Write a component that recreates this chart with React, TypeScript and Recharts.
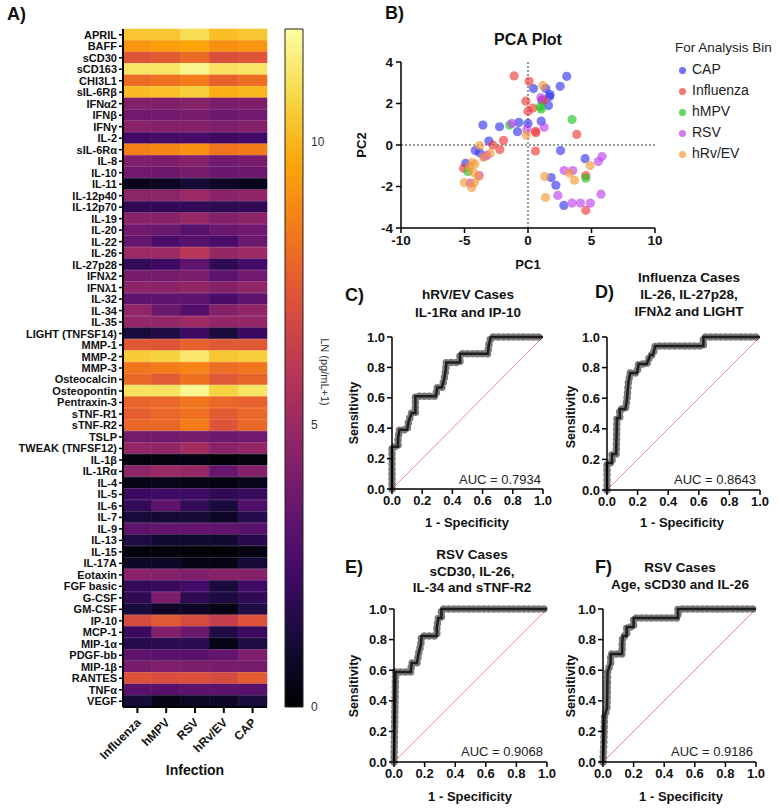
import React from "react";
import {
  Bar,
  BarChart,
  Cell,
  Line,
  LineChart,
  ReferenceLine,
  Scatter,
  ScatterChart,
  XAxis,
  YAxis,
} from "recharts";

// ---- A) heatmap: LN(pg/mL+1) per analyte and infection ----
const INFECTIONS = ["Influenza", "hMPV", "RSV", "hRv/EV", "CAP"];

const MARKERS = [
  "APRIL", "BAFF", "sCD30", "sCD163", "CHI3L1", "sIL-6Rβ", "IFNα2", "IFNβ", "IFNγ", "IL-2",
  "sIL-6Rα", "IL-8", "IL-10", "IL-11", "IL-12p40", "IL-12p70", "IL-19", "IL-20", "IL-22", "IL-26",
  "IL-27p28", "IFNλ2", "IFNλ1", "IL-32", "IL-34", "IL-35", "LIGHT (TNFSF14)", "MMP-1", "MMP-2", "MMP-3",
  "Osteocalcin", "Osteopontin", "Pentraxin-3", "sTNF-R1", "sTNF-R2", "TSLP", "TWEAK (TNFSF12)", "IL-1β", "IL-1Rα", "IL-4",
  "IL-5", "IL-6", "IL-7", "IL-9", "IL-13", "IL-15", "IL-17A", "Eotaxin", "FGF basic", "G-CSF",
  "GM-CSF", "IP-10", "MCP-1", "MIP-1α", "PDGF-bb", "MIP-1β", "RANTES", "TNFα", "VEGF",
];

const INFLUENZA = [10.4, 9.2, 7.3, 11.2, 8.0, 10.1, 4.3, 3.8, 4.5, 2.4, 8.6, 4.2, 3.8, 0.5, 4.6, 1.9, 4.5, 3.8, 3.5, 5.0, 2.0, 4.0, 4.6, 3.3, 4.7, 4.8, 1.3, 7.4, 10.5, 8.3, 7.9, 11.1, 7.8, 7.6, 7.9, 3.9, 4.8, 0.2, 4.6, 0.4, 2.2, 2.0, 1.3, 3.2, 1.5, 0.2, 0.8, 4.5, 2.0, 1.9, 1.3, 6.9, 2.2, 1.6, 3.2, 4.0, 7.2, 3.1, 1.2];
const HMPV = [10.4, 9.4, 7.5, 11.2, 8.2, 10.2, 4.2, 3.8, 4.3, 2.5, 8.8, 4.1, 3.7, 0.7, 4.6, 2.0, 4.5, 3.6, 2.7, 5.0, 2.3, 3.9, 4.5, 3.3, 3.6, 4.8, 1.5, 7.3, 10.7, 8.5, 7.5, 11.1, 7.9, 7.9, 7.9, 3.8, 4.7, 0.2, 5.0, 0.5, 2.3, 3.2, 1.1, 3.4, 1.0, 0.2, 0.8, 4.4, 2.1, 4.1, 0.8, 7.4, 4.3, 1.8, 3.1, 4.2, 7.0, 3.0, 0.4];
const RSV = [11.0, 9.6, 8.0, 11.7, 8.5, 10.6, 4.4, 4.0, 4.4, 2.6, 9.1, 4.4, 4.0, 1.1, 5.0, 2.0, 4.9, 3.0, 3.0, 5.9, 3.3, 4.1, 4.8, 3.3, 2.9, 5.1, 2.3, 7.7, 11.3, 8.7, 8.2, 11.8, 8.3, 8.2, 8.5, 3.9, 5.3, 0.3, 4.9, 0.4, 2.3, 2.0, 1.2, 3.4, 1.0, 0.1, 0.4, 4.2, 2.5, 1.9, 0.8, 6.9, 3.6, 1.8, 3.1, 4.1, 7.1, 3.2, 0.7];
const HRV_EV = [10.2, 9.0, 7.1, 11.1, 7.7, 9.8, 4.1, 3.7, 4.2, 2.3, 8.3, 3.8, 3.6, 0.8, 4.5, 1.8, 4.3, 3.6, 2.6, 4.9, 1.9, 3.2, 4.4, 2.6, 4.4, 4.7, 1.3, 7.4, 10.4, 8.1, 7.4, 10.7, 7.9, 7.5, 7.3, 3.7, 4.5, 0.1, 3.5, 0.3, 1.9, 1.3, 0.8, 3.3, 1.0, 0.1, 0.4, 4.4, 1.3, 1.4, 0.4, 6.3, 1.5, 0.4, 3.4, 4.0, 6.9, 3.2, 0.8];
const CAP = [10.4, 9.2, 7.3, 11.2, 8.1, 10.0, 4.2, 3.8, 4.4, 2.4, 8.5, 4.0, 3.7, 0.5, 4.7, 1.9, 4.6, 3.8, 3.6, 5.1, 2.5, 3.8, 4.7, 3.2, 4.7, 4.8, 2.2, 7.4, 10.6, 8.3, 7.8, 11.2, 7.7, 7.9, 7.9, 3.8, 4.8, 0.2, 4.4, 0.5, 2.1, 2.8, 1.6, 3.1, 1.7, 0.3, 1.1, 4.4, 2.3, 1.9, 1.5, 7.2, 2.2, 1.4, 4.2, 3.9, 7.5, 3.0, 1.3];

const SCALE_MAX = 12;
const SCALE_TICKS = [0, 5, 10];

// ---- B) PCA scores ----
const CAP_PC1 = [3.05, 0.43, 1.4, 2.53, 1.74, 1.7, 1.61, 1.09, 1.04, -3.55, -2.24, -0.72, -0.83, 0, -3.08, -4.15, -3.81, -4.91, 2.56, 4.5, 1.82, 2.19, 2.82];
const CAP_PC2 = [3.31, 2.72, 2.72, 2.83, 2.43, 2.32, 1.9, 2.16, 1.15, 0.96, 0.88, 1.09, 0.64, 1.04, 0.19, -0.27, -0.37, -0.88, -0.27, -0.66, -1.57, -1.94, -2.91];
const FLU_PC1 = [-1.09, 0.09, -0.17, 0, 0.38, 1.22, 0.59, 0.62, 3.84, 0.59, -1.93, -2.77, -2.22, -5.07, 4.55, 4.55];
const FLU_PC2 = [3.33, 3.07, 2.11, 1.63, 1.78, 2.16, 0.66, 0.59, 0.51, -0.29, 0.22, 0, -0.22, -1.12, -1.47, -3.15];
const HMPV_PC1 = [0.96, 1.04, 3.47, -1.45, 4.55, -4.73];
const HMPV_PC2 = [1.84, 1.73, 1.23, 0.96, -1.6, -1.28];
const RSV_PC1 = [1.01, 1.27, -0.09, -1.27, -3.24, -3.45, -3.84, -4.55, 2.85, 3.53, 5.83, 5.54, 5.75, 2.35, 3.47, 4.13, 4.91];
const RSV_PC2 = [2.29, 0.85, 0.75, 1.04, -0.5, -0.56, -1.47, -1.84, -1.23, -1.23, -0.56, -0.8, -2.37, -2.43, -2.8, -2.8, -2.8];
const HRV_PC1 = [1.17, -0.14, -3.81, -2.98, -3.5, -4.42, -4.18, -4.6, -4.28, -3.89, -5.02, -4.21, -4.44, 1.32, 3.26, 3.66, 4.89, 1.38];
const HRV_PC2 = [2.86, 0.48, -0.03, -0.4, -0.59, -0.85, -0.91, -1.09, -1.33, -1.52, -1.81, -1.81, -2.05, -1.52, -1.36, -1.7, -0.99, -2.53];

const PCA_X_TICKS = [-10, -5, 0, 5, 10];
const PCA_Y_TICKS = [-4, -2, 0, 2, 4];

// ---- C–F) ROC curve vertices (1 - specificity, sensitivity) ----
const C_FPR = [0, 0, 0.04, 0.04, 0.05, 0.1, 0.11, 0.13, 0.155, 0.155, 0.29, 0.3, 0.33, 0.345, 0.355, 0.36, 0.45, 0.45, 0.635, 0.64, 0.655, 1];
const C_TPR = [0, 0.278, 0.278, 0.333, 0.389, 0.389, 0.444, 0.5, 0.5, 0.611, 0.611, 0.667, 0.667, 0.722, 0.778, 0.833, 0.833, 0.889, 0.889, 0.944, 1, 1];
const D_FPR = [0, 0, 0.033, 0.033, 0.06, 0.065, 0.083, 0.083, 0.12, 0.13, 0.14, 0.152, 0.196, 0.207, 0.26, 0.283, 0.3, 0.315, 0.63, 0.63, 1];
const D_TPR = [0, 0.176, 0.176, 0.235, 0.235, 0.471, 0.471, 0.529, 0.529, 0.588, 0.706, 0.765, 0.765, 0.824, 0.824, 0.882, 0.882, 0.941, 0.941, 1, 1];
const E_FPR = [0, 0.01, 0.11, 0.115, 0.15, 0.16, 0.175, 0.18, 0.28, 0.28, 0.29, 0.31, 0.31, 1];
const E_TPR = [0, 0.588, 0.588, 0.647, 0.647, 0.706, 0.765, 0.824, 0.824, 0.882, 0.941, 0.941, 1, 1];
const F_FPR = [0, 0.005, 0.01, 0.026, 0.03, 0.05, 0.05, 0.125, 0.125, 0.13, 0.155, 0.155, 0.2, 0.2, 0.49, 0.49, 1];
const F_TPR = [0, 0.118, 0.294, 0.353, 0.588, 0.647, 0.706, 0.706, 0.765, 0.824, 0.824, 0.882, 0.882, 0.941, 0.941, 1, 1];

const ROC_TICKS = [0, 0.2, 0.4, 0.6, 0.8, 1];

const FONT = "'Liberation Sans', Arial, sans-serif";
const INK = "#111";

// inferno colormap stops
const INFERNO = [
  [0, 0, 4], [22, 11, 57], [66, 10, 104], [106, 23, 110], [147, 38, 103], [188, 55, 84],
  [221, 81, 58], [243, 120, 25], [252, 165, 10], [246, 215, 70], [252, 255, 164],
];

function inferno(t: number): string {
  const c = Math.max(0, Math.min(1, t)) * 10;
  const i = Math.min(9, Math.floor(c));
  const f = c - i;
  const a = INFERNO[i];
  const b = INFERNO[i + 1];
  const mix = (k: number) => Math.round(a[k] + (b[k] - a[k]) * f);
  return `rgb(${mix(0)},${mix(1)},${mix(2)})`;
}

/** Absolutely placed text, centred on (x, y) unless anchored otherwise. */
function Txt({
  x, y, size = 13, bold = true, anchor = "middle", rotate = 0, color = INK, children,
}: {
  x: number; y: number; size?: number; bold?: boolean; anchor?: "start" | "middle" | "end";
  rotate?: number; color?: string; children: React.ReactNode;
}) {
  const tx = anchor === "middle" ? "-50%" : anchor === "end" ? "-100%" : "0";
  return (
    <div
      style={{
        position: "absolute",
        left: x,
        top: y,
        transform: `translate(${tx},-50%) rotate(${rotate}deg)`,
        transformOrigin: anchor === "middle" ? "50% 50%" : "0 50%",
        fontSize: size,
        fontWeight: bold ? 700 : 400,
        color,
        whiteSpace: "nowrap",
        lineHeight: 1.1,
      }}
    >
      {children}
    </div>
  );
}

function InfectionTick(props: any) {
  const { x, y, payload } = props;
  const label = INFECTIONS[Math.floor(payload.value)];
  return (
    <g transform={`translate(${x},${y + 4})`}>
      <text x={0} y={0} dy={6} textAnchor="end" transform="rotate(-45)" fontSize={12} fontWeight={700} fill={INK}>
        {label}
      </text>
    </g>
  );
}

// plain <text> so long names like "LIGHT (TNFSF14)" stay on one line
function MarkerTick(props: any) {
  const { x, y, payload } = props;
  return (
    <text x={x} y={y} dy={4} textAnchor="end" fontSize={11} fontWeight={700} fill={INK}>
      {payload.value}
    </text>
  );
}

function Heatmap() {
  const cols = [INFLUENZA, HMPV, RSV, HRV_EV, CAP];
  const rows = MARKERS.map((m) => {
    const r: Record<string, string | number> = { marker: m };
    INFECTIONS.forEach((name) => (r[name] = 1));
    return r;
  });
  return (
    <div style={{ position: "absolute", left: 0, top: 0 }}>
      <BarChart
        layout="vertical"
        width={280}
        height={809}
        data={rows}
        margin={{ top: 29, right: 13, bottom: 42, left: 8 }}
        barCategoryGap={0}
        barGap={0}
      >
        <XAxis
          type="number"
          domain={[0, 5]}
          ticks={[0.5, 1.5, 2.5, 3.5, 4.5]}
          interval={0}
          height={60}
          tick={<InfectionTick />}
          tickSize={6}
          tickLine={{ stroke: "#000", strokeWidth: 2 }}
          axisLine={{ stroke: "#000", strokeWidth: 2 }}
        />
        <XAxis
          xAxisId="top"
          orientation="top"
          type="number"
          domain={[0, 5]}
          height={0}
          tick={false}
          tickLine={false}
          axisLine={{ stroke: "#000", strokeWidth: 2 }}
        />
        <YAxis
          type="category"
          dataKey="marker"
          width={115}
          interval={0}
          tick={<MarkerTick />}
          tickSize={4}
          tickMargin={2}
          tickLine={{ stroke: "#000", strokeWidth: 1.5 }}
          axisLine={{ stroke: "#000", strokeWidth: 2 }}
        />
        <YAxis
          yAxisId="right"
          orientation="right"
          type="category"
          dataKey="marker"
          width={0}
          tick={false}
          tickLine={false}
          axisLine={{ stroke: "#000", strokeWidth: 2 }}
        />
        {INFECTIONS.map((name, j) => (
          <Bar key={name} dataKey={name} stackId="heat" isAnimationActive={false}>
            {cols[j].map((v, i) => {
              const c = inferno(v / SCALE_MAX);
              return <Cell key={i} fill={c} stroke={c} strokeWidth={0.6} />;
            })}
          </Bar>
        ))}
      </BarChart>
    </div>
  );
}

function ColorScale() {
  return (
    <div style={{ position: "absolute", left: 276, top: 0 }}>
      <BarChart
        width={97}
        height={809}
        data={[{ name: "LN", level: SCALE_MAX }]}
        margin={{ top: 29, right: 40, bottom: 102, left: 9 }}
        barCategoryGap={0}
      >
        <defs>
          <linearGradient id="infernoGrad" x1="0" y1="1" x2="0" y2="0">
            {INFERNO.map((c, i) => (
              <stop key={i} offset={i / 10} stopColor={`rgb(${c.join(",")})`} />
            ))}
          </linearGradient>
        </defs>
        <XAxis dataKey="name" hide />
        <YAxis
          orientation="right"
          domain={[0, SCALE_MAX]}
          ticks={SCALE_TICKS}
          width={30}
          axisLine={false}
          tickLine={false}
          tickSize={0}
          tickMargin={8}
          tick={{ fontSize: 12, fill: "#333" }}
        />
        <Bar dataKey="level" fill="url(#infernoGrad)" stroke="#222" strokeWidth={1} isAnimationActive={false} />
      </BarChart>
    </div>
  );
}

const PCA_SERIES = [
  { name: "CAP", color: "#3535ee", pc1: CAP_PC1, pc2: CAP_PC2 },
  { name: "Influenza", color: "#ee3a3a", pc1: FLU_PC1, pc2: FLU_PC2 },
  { name: "hMPV", color: "#22c422", pc1: HMPV_PC1, pc2: HMPV_PC2 },
  { name: "RSV", color: "#c040ee", pc1: RSV_PC1, pc2: RSV_PC2 },
  { name: "hRv/EV", color: "#f59a35", pc1: HRV_PC1, pc2: HRV_PC2 },
];

function PcaPlot() {
  const axisTick = { fontSize: 13.5, fontWeight: 700, fill: INK };
  const frame = { stroke: "#000", strokeWidth: 1.5 };
  return (
    <div style={{ position: "absolute", left: 350, top: 40 }}>
      <ScatterChart width={320} height={240} margin={{ top: 22, right: 15, bottom: 27, left: 21 }}>
        <XAxis
          type="number"
          dataKey="x"
          domain={[-10, 10]}
          ticks={PCA_X_TICKS}
          height={25}
          tick={axisTick}
          tickSize={5}
          tickLine={frame}
          axisLine={frame}
        />
        <YAxis
          type="number"
          dataKey="y"
          domain={[-4, 4]}
          ticks={PCA_Y_TICKS}
          width={30}
          tick={axisTick}
          tickSize={5}
          tickMargin={3}
          tickLine={frame}
          axisLine={frame}
        />
        <XAxis xAxisId="top" orientation="top" type="number" domain={[-10, 10]} height={0} tick={false} tickLine={false} axisLine={frame} />
        <YAxis yAxisId="right" orientation="right" type="number" domain={[-4, 4]} width={0} tick={false} tickLine={false} axisLine={frame} />
        <ReferenceLine x={0} stroke="#333" strokeDasharray="2 2" strokeWidth={1} />
        <ReferenceLine y={0} stroke="#333" strokeDasharray="2 2" strokeWidth={1} />
        {PCA_SERIES.map((s) => (
          <Scatter
            key={s.name}
            name={s.name}
            data={s.pc1.map((x, i) => ({ x, y: s.pc2[i] }))}
            isAnimationActive={false}
            shape={(p: any) => <circle cx={p.cx} cy={p.cy} r={4.6} fill={s.color} fillOpacity={0.65} />}
          />
        ))}
      </ScatterChart>
    </div>
  );
}

function PcaLegend() {
  const ys = [70, 91, 112, 133, 154];
  return (
    <>
      <Txt x={675} y={48} size={13.5} bold={false} anchor="start" color="#222">For Analysis Bin</Txt>
      {PCA_SERIES.map((s, i) => (
        <React.Fragment key={s.name}>
          <div
            style={{
              position: "absolute",
              left: 679,
              top: ys[i] - 3.5,
              width: 7,
              height: 7,
              borderRadius: "50%",
              background: s.color,
              opacity: 0.7,
            }}
          />
          <Txt x={692} y={ys[i]} size={14} bold={false} anchor="start" color="#222">{s.name}</Txt>
        </React.Fragment>
      ))}
    </>
  );
}

function RocPanel({
  left, top, right, bottom, fpr, tpr,
}: { left: number; top: number; right: number; bottom: number; fpr: number[]; tpr: number[] }) {
  const data = fpr.map((f, i) => ({ fpr: f, tpr: tpr[i] }));
  const axisTick = { fontSize: 13, fontWeight: 700, fill: INK };
  const line = { stroke: "#000", strokeWidth: 1.5 };
  return (
    <div style={{ position: "absolute", left, top }}>
      <LineChart width={215} height={200} data={data} margin={{ top: 17, right, bottom, left: 20 }}>
        <XAxis
          type="number"
          dataKey="fpr"
          domain={[0, 1]}
          ticks={ROC_TICKS}
          tickFormatter={(v: number) => v.toFixed(1)}
          height={25}
          tick={axisTick}
          tickSize={5}
          tickLine={line}
          axisLine={line}
        />
        <YAxis
          type="number"
          domain={[0, 1]}
          ticks={ROC_TICKS}
          tickFormatter={(v: number) => v.toFixed(1)}
          width={32}
          tick={axisTick}
          tickSize={5}
          tickMargin={2}
          tickLine={line}
          axisLine={line}
        />
        <ReferenceLine segment={[{ x: 0, y: 0 }, { x: 1, y: 1 }]} stroke="#f08c8c" strokeWidth={1} />
        <Line
          dataKey="tpr"
          type="linear"
          stroke="rgba(35,35,35,0.6)"
          strokeWidth={7.5}
          strokeDasharray="0 5"
          strokeLinecap="round"
          dot={false}
          isAnimationActive={false}
        />
        <Line dataKey="tpr" type="linear" stroke="#1e1e1e" strokeWidth={2.5} dot={false} isAnimationActive={false} />
      </LineChart>
    </div>
  );
}

export default function App() {
  return (
    <div
      style={{
        position: "absolute",
        left: 0,
        top: 0,
        width: 779,
        height: 809,
        background: "#fff",
        fontFamily: FONT,
        overflow: "hidden",
      }}
    >
      <Txt x={7} y={15} size={18} anchor="start">A)</Txt>
      <Heatmap />
      <Txt x={195} y={771} size={14}>Infection</Txt>
      <ColorScale />
      <Txt x={325} y={372} size={11} bold={false} rotate={90} color="#333">LN (pg/mL+1)</Txt>

      <Txt x={385} y={14} size={18} anchor="start">B)</Txt>
      <Txt x={528} y={40} size={16}>PCA Plot</Txt>
      <PcaPlot />
      <Txt x={362} y={145} size={13} rotate={-90}>PC2</Txt>
      <Txt x={528} y={265} size={13}>PC1</Txt>
      <PcaLegend />

      <Txt x={345} y={296} size={18} anchor="start">C)</Txt>
      <Txt x={468} y={295} size={13.5}>hRV/EV Cases</Txt>
      <Txt x={468} y={313} size={13.5}>IL-1Rα and IP-10</Txt>
      <RocPanel left={340} top={320} right={12} bottom={6} fpr={C_FPR} tpr={C_TPR} />
      <Txt x={355} y={413} size={12.5} rotate={-90}>Sensitivity</Txt>
      <Txt x={467} y={523} size={13}>1 - Specificity</Txt>
      <Txt x={541} y={480} size={13} bold={false} anchor="end" color="#222">AUC = 0.7934</Txt>

      <Txt x={595} y={293} size={18} anchor="start">D)</Txt>
      <Txt x={689} y={278} size={13.5}>Influenza Cases</Txt>
      <Txt x={689} y={295} size={13.5}>IL-26, IL-27p28,</Txt>
      <Txt x={689} y={312} size={13.5}>IFNλ2 and LIGHT</Txt>
      <RocPanel left={555} top={320} right={10} bottom={5} fpr={D_FPR} tpr={D_TPR} />
      <Txt x={572} y={417} size={12.5} rotate={-90}>Sensitivity</Txt>
      <Txt x={682} y={523} size={13}>1 - Specificity</Txt>
      <Txt x={756} y={480} size={13} bold={false} anchor="end" color="#222">AUC = 0.8643</Txt>

      <Txt x={345} y={568} size={18} anchor="start">E)</Txt>
      <Txt x={472} y={555} size={13.5}>RSV Cases</Txt>
      <Txt x={472} y={572} size={13.5}>sCD30, IL-26,</Txt>
      <Txt x={472} y={588} size={13.5}>IL-34 and sTNF-R2</Txt>
      <RocPanel left={342} top={592} right={10} bottom={5} fpr={E_FPR} tpr={E_TPR} />
      <Txt x={355} y={686} size={12.5} rotate={-90}>Sensitivity</Txt>
      <Txt x={470} y={797} size={13}>1 - Specificity</Txt>
      <Txt x={543} y={752} size={13} bold={false} anchor="end" color="#222">AUC = 0.9068</Txt>

      <Txt x={595} y={568} size={18} anchor="start">F)</Txt>
      <Txt x={680} y={568} size={13.5}>RSV Cases</Txt>
      <Txt x={680} y={585} size={13.5}>Age, sCD30 and IL-26</Txt>
      <RocPanel left={551} top={592} right={10} bottom={5} fpr={F_FPR} tpr={F_TPR} />
      <Txt x={572} y={686} size={12.5} rotate={-90}>Sensitivity</Txt>
      <Txt x={681} y={797} size={13}>1 - Specificity</Txt>
      <Txt x={753} y={752} size={13} bold={false} anchor="end" color="#222">AUC = 0.9186</Txt>
    </div>
  );
}
